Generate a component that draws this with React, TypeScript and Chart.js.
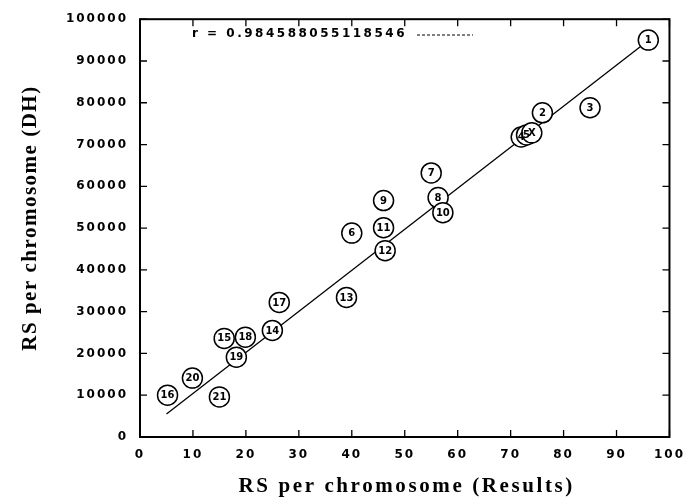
import React, { useEffect, useRef } from "react";
import { Chart, registerables } from "chart.js";

Chart.register(...registerables);

const pointLabels = ["1", "3", "2", "4", "5", "X", "7", "8", "9", "10", "6", "11", "12", "13", "14", "15", "17", "18", "19", "20", "21", "16"];
const resultsValues = [96, 85, 76, 72, 73, 74, 55, 56.3, 46, 57.2, 40, 46, 46.3, 39, 25, 15.9, 26.3, 19.9, 18.2, 9.9, 15, 5.2];
const dhValues = [95000, 78800, 77600, 71800, 72300, 72800, 63200, 57300, 56600, 53700, 48800, 50100, 44600, 33400, 25500, 23600, 32200, 23900, 19100, 14100, 9600, 10000];
const fitX = [5, 96];
const fitY = [5500, 94900];
const legendText = "r = 0.984588055118546";
const xTitle = "RS per chromosome (Results)";
const yTitle = "RS per chromosome (DH)";

const TITLE_FONT = "bold 21px \"Liberation Serif\", \"DejaVu Serif\", serif";

const spacingPlugin = {
  id: "spacing",
  beforeDraw(chart: any) {
    (chart.ctx as any).letterSpacing = "2px";
  },
};

const framePlugin = {
  id: "frame",
  afterDraw(chart: any) {
    const { ctx, chartArea } = chart;
    const { left, right, top, bottom } = chartArea;
    const xs = chart.scales.x;
    const ys = chart.scales.y;
    ctx.save();
    (ctx as any).letterSpacing = "0px";
    ctx.strokeStyle = "#000";
    ctx.lineWidth = 1.3;
    ctx.beginPath();
    xs.ticks.forEach((t: any) => {
      const px = xs.getPixelForValue(t.value);
      ctx.moveTo(px, bottom);
      ctx.lineTo(px, bottom - 7);
      ctx.moveTo(px, top);
      ctx.lineTo(px, top + 7);
    });
    ys.ticks.forEach((t: any) => {
      const py = ys.getPixelForValue(t.value);
      ctx.moveTo(left, py);
      ctx.lineTo(left + 7, py);
      ctx.moveTo(right, py);
      ctx.lineTo(right - 7, py);
    });
    ctx.stroke();
    ctx.lineWidth = 2;
    ctx.strokeRect(left, top, right - left, bottom - top);

    // legend
    ctx.fillStyle = "#000";
    ctx.font = "bold 12px \"DejaVu Sans\"";
    (ctx as any).letterSpacing = "2.5px";
    ctx.textAlign = "left";
    ctx.textBaseline = "middle";
    ctx.fillText(legendText, 192, 34);
    (ctx as any).letterSpacing = "0px";
    ctx.lineWidth = 1;
    ctx.setLineDash([3, 2]);
    ctx.beginPath();
    ctx.moveTo(417, 35);
    ctx.lineTo(473, 35);
    ctx.stroke();
    ctx.setLineDash([]);

    // axis titles
    ctx.font = TITLE_FONT;
    ctx.textAlign = "center";
    ctx.textBaseline = "middle";
    (ctx as any).letterSpacing = "2.6px";
    ctx.fillText(xTitle, (left + right) / 2 + 2, 487);
    (ctx as any).letterSpacing = "1.5px";
    ctx.save();
    ctx.translate(31, 218);
    ctx.rotate(-Math.PI / 2);
    ctx.fillText(yTitle, 0, 0);
    ctx.restore();
    ctx.restore();
  },
};

const labelPlugin = {
  id: "pointLabels",
  afterDatasetsDraw(chart: any) {
    const { ctx } = chart;
    const meta = chart.getDatasetMeta(0);
    ctx.save();
    (ctx as any).letterSpacing = "0px";
    ctx.fillStyle = "#000";
    ctx.font = "bold 10px \"DejaVu Sans\"";
    ctx.textAlign = "center";
    ctx.textBaseline = "middle";
    meta.data.forEach((el: any, i: number) => {
      ctx.fillText(pointLabels[i], el.x, el.y + 0.5);
    });
    ctx.restore();
  },
};

export default function App() {
  const ref = useRef<HTMLCanvasElement | null>(null);
  useEffect(() => {
    if (!ref.current) return;
    const chart = new Chart(ref.current, {
      type: "scatter",
      data: {
        datasets: [
          {
            label: "points",
            data: resultsValues.map((x, i) => ({ x, y: dhValues[i] })),
            pointRadius: 10,
            pointHoverRadius: 10,
            pointBorderWidth: 1.5,
            pointBorderColor: "#000",
            pointBackgroundColor: "#fff",
            showLine: false,
          },
          {
            label: "fit",
            data: fitX.map((x, i) => ({ x, y: fitY[i] })),
            showLine: true,
            borderColor: "#000",
            borderWidth: 1.3,
            pointRadius: 0,
          },
        ],
      },
      options: {
        animation: false,
        responsive: false,
        events: [],
        layout: { padding: { top: 18, right: 20, left: 0, bottom: 0 } },
        plugins: { legend: { display: false }, tooltip: { enabled: false } },
        scales: {
          x: {
            type: "linear",
            min: 0,
            max: 100,
            grid: { display: false, drawTicks: false },
            border: { display: false },
            ticks: {
              stepSize: 10,
              padding: 11,
              color: "#000",
              font: { family: "'DejaVu Sans'", weight: "bold", size: 12 },
              maxRotation: 0,
              callback: (v: any) => String(v),
            },
            title: { display: false },
            afterFit: (s: any) => {
              s.height = 60;
            },
          },
          y: {
            type: "linear",
            min: 0,
            max: 100000,
            grid: { display: false, drawTicks: false },
            border: { display: false },
            ticks: {
              stepSize: 10000,
              padding: 12,
              color: "#000",
              font: { family: "'DejaVu Sans'", weight: "bold", size: 12 },
              callback: (v: any) => String(v),
            },
            title: { display: false },
            afterFit: (s: any) => {
              s.width = 140;
            },
          },
        },
      },
      plugins: [spacingPlugin, framePlugin, labelPlugin],
    });
    const fonts: any = (document as any).fonts;
    if (fonts && fonts.load) {
      Promise.all([
        fonts.load("bold 21px \"Liberation Serif\""),
        fonts.load("bold 12px \"DejaVu Sans\""),
      ]).then(() => {
        try { chart.update(); } catch (e) {}
      });
    }
    return () => chart.destroy();
  }, []);
  return (
    <div style={{ position: "absolute", left: 0, top: 0, width: 693, height: 497, background: "#fff" }}>
      <canvas ref={ref} width={693} height={497} />
    </div>
  );
}
